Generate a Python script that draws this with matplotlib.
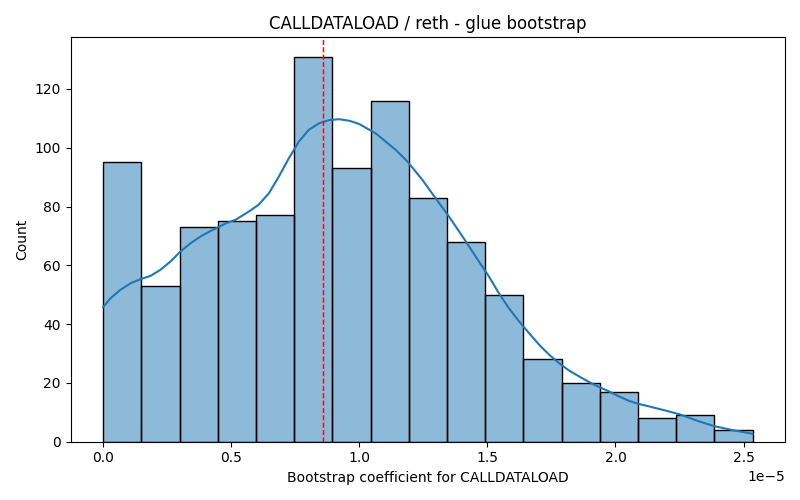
import numpy as np
import matplotlib
matplotlib.use("Agg")
import matplotlib.pyplot as plt

# Histogram counts (17 equal bins between x_min and x_max, values in 1e-5 units)
x_min = 0.0
x_max = 2.535
counts = [95, 53, 73, 75, 77, 131, 93, 116, 83, 68, 50, 28, 20, 17, 8, 9, 4]

# KDE curve (x in 1e-5 units, y in counts)
kde_x = [0.000, 0.029, 0.068, 0.107, 0.146, 0.185, 0.224, 0.263, 0.302, 0.341,
         0.380, 0.420, 0.480, 0.517, 0.569, 0.607, 0.647, 0.686, 0.725, 0.764,
         0.803, 0.843, 0.882, 0.921, 0.960, 0.999, 1.064, 1.142, 1.188, 1.246,
         1.298, 1.350, 1.416, 1.467, 1.506, 1.545, 1.584, 1.624, 1.663, 1.702,
         1.741, 1.780, 1.819, 1.858, 1.897, 1.936, 1.975, 2.014, 2.053, 2.093,
         2.132, 2.200, 2.255, 2.320, 2.385, 2.460, 2.535]
kde_y = [45.8, 48.8, 51.7, 53.9, 55.3, 56.4, 58.5, 61.3, 64.7, 67.5,
         69.8, 71.7, 74.3, 75.5, 78.3, 80.6, 84.5, 90.2, 96.4, 102.1,
         106.1, 108.3, 109.4, 109.7, 109.2, 108.1, 104.9, 99.3, 95.3, 89.1,
         82.8, 76.6, 68.1, 61.3, 56.2, 50.5, 45.4, 40.9, 36.9, 33.0,
         29.6, 26.7, 24.2, 22.2, 20.3, 18.6, 17.1, 15.4, 13.9, 12.8,
         12.0, 10.5, 9.2, 7.1, 5.3, 3.9, 2.7]

# Mean marker
mean_value = 0.859

scale = 1e-5
edges = np.linspace(x_min, x_max, len(counts) + 1) * scale

fig, ax = plt.subplots(figsize=(8, 5), dpi=100)
ax.bar(edges[:-1], counts, width=np.diff(edges), align="edge",
       color="#1f77b4", alpha=0.5, edgecolor="none")
ax.bar(edges[:-1], counts, width=np.diff(edges), align="edge",
       fill=False, edgecolor="black", linewidth=1)
ax.plot(np.array(kde_x) * scale, kde_y, color="#1f77b4", linewidth=1.5)
ax.axvline(mean_value * scale, color="red", linestyle="--", linewidth=1)

ax.set_title("CALLDATALOAD / reth - glue bootstrap")
ax.set_xlabel("Bootstrap coefficient for CALLDATALOAD")
ax.set_ylabel("Count")

plt.tight_layout()
plt.savefig("out.png")
